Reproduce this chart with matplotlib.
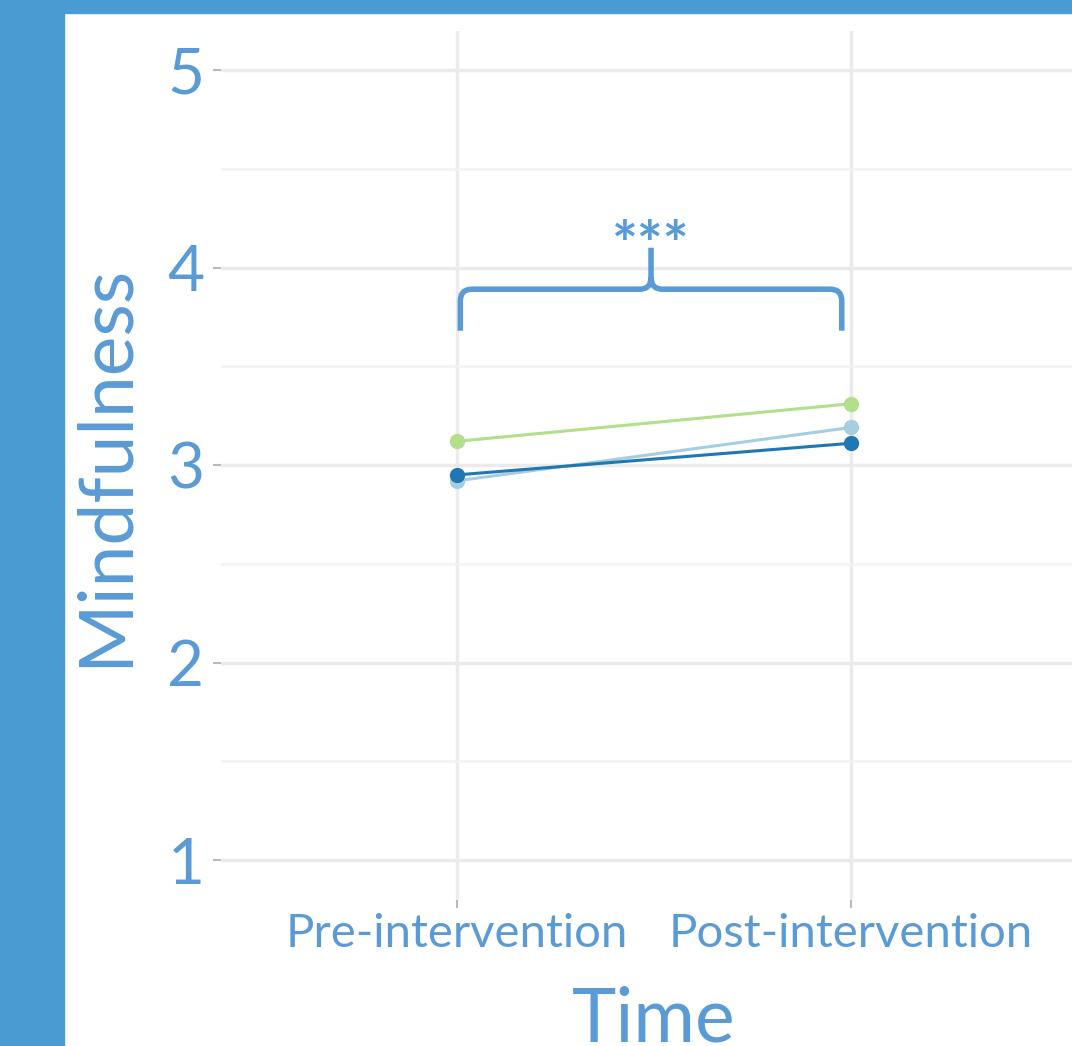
import numpy as np
import matplotlib.pyplot as plt
from matplotlib.path import Path
from matplotlib.patches import PathPatch, Rectangle

# data
times = ["Pre-intervention", "Post-intervention"]
group_a = [2.95, 3.11]   # dark blue
group_b = [2.92, 3.19]   # light blue
group_c = [3.12, 3.31]   # green
group_colors = ["#1F78B4", "#A6CEE3", "#B2DF8A"]
y_ticks = [1, 2, 3, 4, 5]
signif = "***"

text_col = "#5B9BD5"
border_col = "#4A9BD2"
grid_col = "#EBEBEB"

plt.rcParams['font.family'] = ['Lato', 'DejaVu Sans']

W, H = 1072, 1046
fig = plt.figure(figsize=(W / 100, H / 100), dpi=100)
ax = fig.add_axes([221 / W, 1 - 899.5 / H, 866 / W, 869 / H])

x = np.arange(len(times))
for vals, col in zip([group_b, group_a, group_c], [group_colors[1], group_colors[0], group_colors[2]]):
    ax.plot(x, vals, color=col, lw=2.2, marker="o", ms=10, zorder=3)

ax.set_xlim(-0.6, 1.6)
ax.set_ylim(0.8, 5.2)
ax.set_yticks(y_ticks)
ax.set_yticks(np.array(y_ticks[:-1]) + 0.5, minor=True)
ax.set_xticks(x)
ax.set_xticklabels(times)
ax.grid(True, which="major", color=grid_col, lw=2.5, zorder=0)
ax.grid(True, which="minor", axis="y", color="#F3F3F3", lw=1.8, zorder=0)
for s in ax.spines.values():
    s.set_visible(False)
ax.tick_params(axis="both", which="major", length=6, width=1.5, color="#BBBBBB")
ax.tick_params(axis="y", which="major", labelsize=46, labelcolor=text_col, pad=6)
ax.tick_params(axis="x", which="major", labelsize=34, labelcolor=text_col, pad=4)
ax.tick_params(which="minor", length=0)

# significance brace between the two time points
x0, x1 = 0.008, 0.977
xm = (x0 + x1) / 2
yb, yh, yt = 3.68, 3.89, 4.10
rx, ry = 0.03, 0.06
verts = [(x0, yb), (x0, yh - ry), (x0, yh), (x0 + rx, yh),
         (xm - rx, yh), (xm, yh), (xm, yh + ry), (xm, yt),
         (xm, yh + ry), (xm, yh), (xm + rx, yh),
         (x1 - rx, yh), (x1, yh), (x1, yh - ry), (x1, yb)]
codes = [Path.MOVETO, Path.LINETO, Path.CURVE3, Path.CURVE3,
         Path.LINETO, Path.CURVE3, Path.CURVE3, Path.LINETO,
         Path.MOVETO, Path.CURVE3, Path.CURVE3,
         Path.LINETO, Path.CURVE3, Path.CURVE3, Path.LINETO]
ax.add_patch(PathPatch(Path(verts, codes), fill=False, ec=text_col, lw=4,
                       capstyle="butt", joinstyle="round", zorder=4))
ax.text(xm, 4.10, signif, ha="center", va="center", fontsize=44,
        fontweight="bold", color=text_col)

fig.text(105 / W, 1 - 465 / H, "Mindfulness", rotation=90, ha="center", va="center",
         fontsize=54, color=text_col)
fig.text(654 / W, 1 - 1041 / H, "Time", ha="center", va="baseline",
         fontsize=54, color=text_col)

# blue frame on the left and top
fig.patches.append(Rectangle((0, 0), 64 / W, 1, transform=fig.transFigure,
                             color=border_col, zorder=10))
fig.patches.append(Rectangle((0, 1 - 13 / H), 1, 13 / H, transform=fig.transFigure,
                             color=border_col, zorder=10))

fig.savefig("out.png", dpi=100)
